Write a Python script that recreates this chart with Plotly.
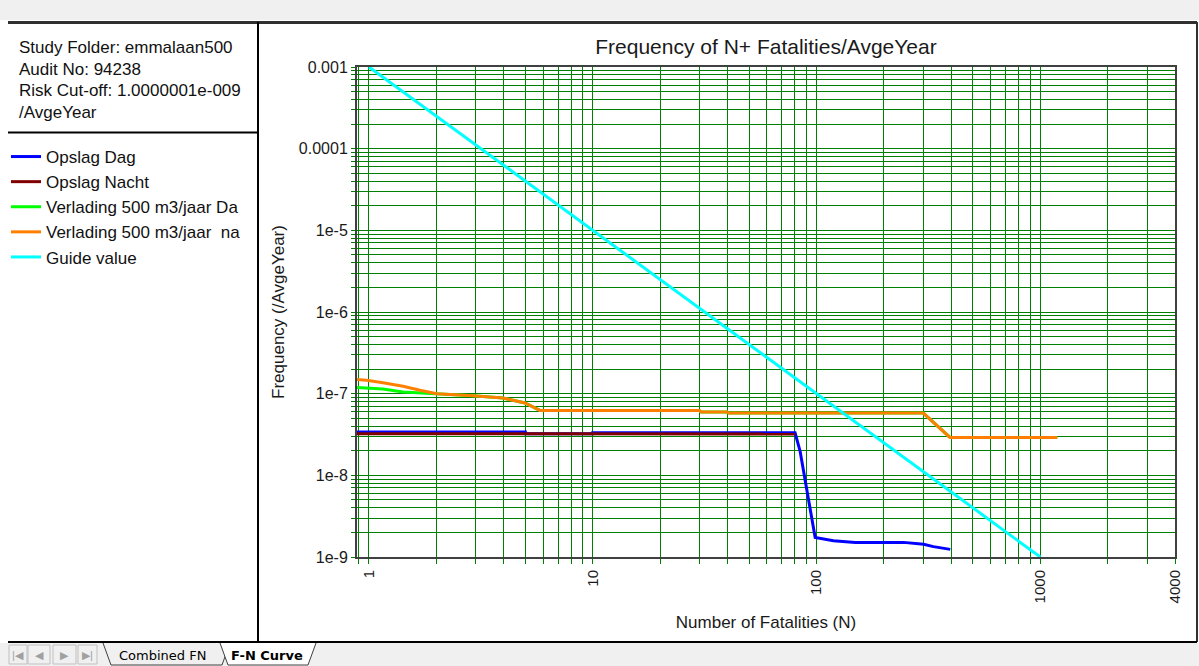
import plotly.graph_objects as go
import numpy as np

# ---------------- data ----------------
series_names = [
    "Opslag Dag",
    "Opslag Nacht",
    "Verlading 500 m3/jaar Da",
    "Verlading 500 m3/jaar\u00a0\u00a0na",
    "Guide value",
]
series_colors = ["#0000ff", "#800000", "#00ff00", "#ff8000", "#00ffff"]

opslag_dag_n = [0.884, 5, 5, 10, 10, 80.2, 84.5, 90.5, 98.6, 119, 149, 245, 301, 333, 396]
opslag_dag_f = [3.39e-8, 3.39e-8, 3.22e-8, 3.22e-8, 3.32e-8, 3.32e-8, 1.96e-8, 6.64e-9,
                1.73e-9, 1.585e-9, 1.51e-9, 1.51e-9, 1.43e-9, 1.34e-9, 1.24e-9]

opslag_nacht_n = [0.884, 10, 10, 80.2]
opslag_nacht_f = [3.24e-8, 3.24e-8, 3.2e-8, 3.2e-8]

verlading_dag_n = [0.884, 1.155, 1.42, 1.8, 2.01, 2.42, 2.92, 3.97, 4.40, 4.98, 5.81,
                   29.9, 30.5, 39.8, 40.5, 300, 395, 1191]
verlading_dag_f = [1.19e-7, 1.14e-7, 1.05e-7, 1.02e-7, 1.0e-7, 9.7e-8, 9.45e-8, 8.85e-8,
                   8.27e-8, 7.69e-8, 6.24e-8, 6.24e-8, 5.96e-8, 5.96e-8, 5.79e-8, 5.79e-8,
                   2.91e-8, 2.91e-8]

verlading_nacht_n = [0.884, 0.976, 1.155, 1.42, 1.69, 2.01, 2.42, 2.92, 3.97, 4.40, 4.98,
                     5.81, 29.9, 30.5, 39.8, 40.5, 300, 395, 1191]
verlading_nacht_f = [1.49e-7, 1.46e-7, 1.36e-7, 1.23e-7, 1.10e-7, 1.0e-7, 9.7e-8, 9.45e-8,
                     8.85e-8, 8.27e-8, 7.69e-8, 6.24e-8, 6.24e-8, 5.96e-8, 5.96e-8, 5.79e-8,
                     5.79e-8, 2.91e-8, 2.91e-8]

guide_n = [1, 1000]
guide_f = [1e-3, 1e-9]

x_major_ticks = [1, 10, 100, 1000, 4000]
y_major_ticks = [1e-3, 1e-4, 1e-5, 1e-6, 1e-7, 1e-8, 1e-9]
y_major_labels = ["0.001", "0.0001", "1e-5", "1e-6", "1e-7", "1e-8", "1e-9"]

info_lines = ["Study Folder: emmalaan500", "Audit No: 94238",
              "Risk Cut-off: 1.0000001e-009", "/AvgeYear"]

# ---------------- layout geometry (pixels) ----------------
W, H = 1199, 666
L, R, T, B = 357, 1175, 67, 557
FONT = "Arial, Liberation Sans, sans-serif"


def px(x):
    return (x - L) / (R - L)


def py(y):
    return (B - y) / (B - T)


# grid tick values (every integer multiple in each decade)
x_grid = [0.9]
for d in [1, 10, 100, 1000]:
    for k in range(1, 10):
        v = k * d
        if v <= 4000:
            x_grid.append(v)
x_grid.append(4000)
x_text = [str(v) if v in x_major_ticks else "" for v in x_grid]

y_grid = []
for e in range(-9, -2):
    for k in range(1, 10):
        v = k * 10.0 ** e
        if v <= 1.0001e-3:
            y_grid.append(v)
y_text = []
for v in y_grid:
    lab = ""
    for mv, ml in zip(y_major_ticks, y_major_labels):
        if abs(v - mv) / mv < 1e-6:
            lab = ml
    y_text.append(lab)

fig = go.Figure()
data = [
    (opslag_dag_n, opslag_dag_f),
    (opslag_nacht_n, opslag_nacht_f),
    (verlading_dag_n, verlading_dag_f),
    (verlading_nacht_n, verlading_nacht_f),
    (guide_n, guide_f),
]
for i, (n, f) in enumerate(data):
    fig.add_trace(go.Scatter(
        x=n, y=f, mode="lines", name=series_names[i],
        line=dict(color=series_colors[i], width=3),
        legendgroup=str(i),
    ))

grid_color = "rgb(0,128,0)"
fig.update_xaxes(
    type="log", range=[np.log10(0.884), np.log10(4000)],
    tickmode="array", tickvals=x_grid, ticktext=x_text, tickangle=-90,
    showgrid=True, gridcolor=grid_color, gridwidth=1,
    ticks="outside", ticklen=5, tickcolor=grid_color, tickwidth=1,
    showline=True, linecolor="#404040", linewidth=2, mirror=True,
    tickfont=dict(family=FONT, size=15, color="#1a1a1a"),
    title=dict(text="Number of Fatalities (N)", font=dict(family=FONT, size=17, color="#1a1a1a"),
               standoff=14),
    zeroline=False,
)
fig.update_yaxes(
    type="log", range=[-9, -3],
    tickmode="array", tickvals=y_grid, ticktext=y_text,
    showgrid=True, gridcolor=grid_color, gridwidth=1,
    ticks="outside", ticklen=4, tickcolor=grid_color, tickwidth=1,
    showline=True, linecolor="#404040", linewidth=2, mirror=True,
    tickfont=dict(family=FONT, size=16, color="#1a1a1a"),
    title=dict(text="Frequency (/AvgeYear)", font=dict(family=FONT, size=17, color="#1a1a1a"),
               standoff=10),
    zeroline=False,
)

shapes = []
# top toolbar
shapes.append(dict(type="rect", xref="paper", yref="paper", x0=px(0), x1=px(W), y0=py(0), y1=py(20),
                   fillcolor="#f0f0f0", line=dict(width=0), layer="below"))
shapes.append(dict(type="line", xref="paper", yref="paper", x0=px(8), x1=px(1197), y0=py(22.5), y1=py(22.5),
                   line=dict(color="#303030", width=3)))
# right border
shapes.append(dict(type="line", xref="paper", yref="paper", x0=px(1197), x1=px(1197), y0=py(22), y1=py(642),
                   line=dict(color="#303030", width=2)))
# left panel borders
shapes.append(dict(type="line", xref="paper", yref="paper", x0=px(258), x1=px(258), y0=py(22), y1=py(642),
                   line=dict(color="#000000", width=2)))
shapes.append(dict(type="line", xref="paper", yref="paper", x0=px(8), x1=px(258), y0=py(132.5), y1=py(132.5),
                   line=dict(color="#000000", width=2)))
# bottom bar
shapes.append(dict(type="rect", xref="paper", yref="paper", x0=px(0), x1=px(W), y0=py(643), y1=py(H),
                   fillcolor="#f0f0f0", line=dict(width=0), layer="below"))
shapes.append(dict(type="line", xref="paper", yref="paper", x0=px(8), x1=px(1197), y0=py(642), y1=py(642),
                   line=dict(color="#000000", width=2)))
# nav buttons
for bx0, bx1 in [(9, 27), (28, 50), (53, 76), (78, 97)]:
    shapes.append(dict(type="rect", xref="paper", yref="paper", x0=px(bx0), x1=px(bx1), y0=py(645), y1=py(664),
                       fillcolor="#f0f0f0", line=dict(color="#c0c0c0", width=1)))


# tabs
def trap(x0, x1, y0, y1, slant):
    return ("M {a},{b} L {c},{d} L {e},{d} L {f},{b}".format(
        a=px(x0), b=py(y0), c=px(x0 + slant), d=py(y1), e=px(x1 - slant), f=px(x1)))


shapes.append(dict(type="path", xref="paper", yref="paper", path=trap(103, 230, 643, 665, 8),
                   line=dict(color="#404040", width=1), fillcolor="#f0f0f0"))
shapes.append(dict(type="path", xref="paper", yref="paper", path=trap(220, 316, 643, 665, 8),
                   line=dict(color="#404040", width=1), fillcolor="#ffffff"))

annotations = []
for i, t in enumerate(info_lines):
    annotations.append(dict(text=t, xref="paper", yref="paper", x=px(17), y=py(48 + 21.4 * i),
                            xanchor="left", yanchor="middle", showarrow=False,
                            font=dict(family=FONT, size=17, color="#111111")))
for xc, t in [(18, "|\u25c0"), (39, "\u25c0"), (64, "\u25b6"), (87, "\u25b6|")]:
    annotations.append(dict(text=t, xref="paper", yref="paper", x=px(xc), y=py(654.5),
                            xanchor="center", yanchor="middle", showarrow=False,
                            font=dict(family=FONT, size=11, color="#a0a0a0")))
annotations.append(dict(text="Combined FN", xref="paper", yref="paper", x=px(162), y=py(655),
                        xanchor="center", yanchor="middle", showarrow=False,
                        font=dict(family="Tahoma, DejaVu Sans, sans-serif", size=13, color="#000000")))
annotations.append(dict(text="<b>F-N Curve</b>", xref="paper", yref="paper", x=px(267), y=py(655),
                        xanchor="center", yanchor="middle", showarrow=False,
                        font=dict(family="Tahoma, DejaVu Sans, sans-serif", size=13, color="#000000")))

fig.update_layout(
    width=W, height=H,
    margin=dict(l=L, r=W - R, t=T, b=H - B, autoexpand=False),
    paper_bgcolor="white", plot_bgcolor="white",
    title=dict(text="Frequency of N+ Fatalities/AvgeYear", x=px((L + R) / 2), xref="paper",
               xanchor="center", y=1 - 47 / H, yanchor="middle",
               font=dict(family=FONT, size=21, color="#1a1a1a")),
    showlegend=True,
    legend=dict(xref="container", yref="container", x=6 / W, y=1 - 139 / H,
                xanchor="left", yanchor="top", bgcolor="rgba(0,0,0,0)", borderwidth=0,
                font=dict(family=FONT, size=17, color="#111111"), tracegroupgap=0,
                traceorder="normal"),
    shapes=shapes, annotations=annotations,
)

fig.write_html(
    "out.html",
    config={"displayModeBar": False},
    post_script="document.body.style.margin='0';document.body.style.overflow='hidden';",
)
